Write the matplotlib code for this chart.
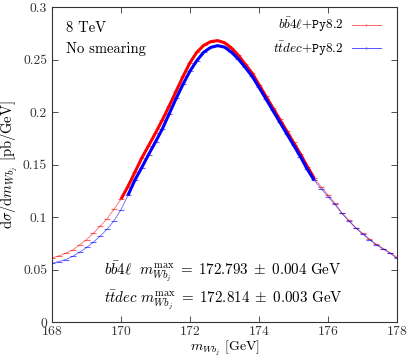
import numpy as np
import matplotlib
matplotlib.use('Agg')
import matplotlib.pyplot as plt
from matplotlib.lines import Line2D
from matplotlib.ticker import FuncFormatter

plt.rcParams['font.family'] = 'serif'
plt.rcParams['font.serif'] = ['cmr10']
plt.rcParams['mathtext.fontset'] = 'cm'
plt.rcParams['axes.formatter.use_mathtext'] = True

# bin centres of the m_Wbj histogram [GeV]
mass = np.round(np.arange(168.0, 178.01, 0.2), 1)

# bb4l + Py8.2 [pb/GeV]
bb4l = [0.0610, 0.0630, 0.0655, 0.0685, 0.0735, 0.0785, 0.0845, 0.0915, 0.0985, 0.1075,
        0.1170, 0.1290, 0.1425, 0.1560, 0.1680, 0.1800, 0.1925, 0.2060, 0.2200, 0.2340,
        0.2470, 0.2570, 0.2635, 0.2670, 0.2680, 0.2660, 0.2610, 0.2540, 0.2455, 0.2370,
        0.2260, 0.2150, 0.2040, 0.1930, 0.1820, 0.1710, 0.1600, 0.1480, 0.1370, 0.1290,
        0.1210, 0.1130, 0.1040, 0.0970, 0.0900, 0.0845, 0.0790, 0.0740, 0.0700, 0.0660,
        0.0616]

# ttdec + Py8.2 [pb/GeV]
ttdec = [0.0559, 0.0575, 0.0595, 0.0625, 0.0665, 0.0710, 0.0760, 0.0820, 0.0885, 0.0965,
         0.1070, 0.1205, 0.1350, 0.1470, 0.1595, 0.1715, 0.1840, 0.1985, 0.2130, 0.2265,
         0.2390, 0.2490, 0.2570, 0.2615, 0.2632, 0.2618, 0.2570, 0.2505, 0.2425, 0.2340,
         0.2235, 0.2125, 0.2015, 0.1905, 0.1795, 0.1685, 0.1575, 0.1455, 0.1350, 0.1270,
         0.1195, 0.1120, 0.1035, 0.0965, 0.0895, 0.0840, 0.0785, 0.0735, 0.0695, 0.0655,
         0.0605]

# fit windows
fit_red = (170.0, 175.6)
fit_blue = (170.2, 175.6)

bb4l = np.array(bb4l)
ttdec = np.array(ttdec)

fig = plt.figure(figsize=(4.07, 3.56), dpi=100)
ax = fig.add_axes([52/407, 34/356, 345/407, 315/356])

ax.plot(mass, bb4l, color='red', lw=0.6, alpha=0.6, marker='_', ms=5, mew=0.8)
ax.plot(mass, ttdec, color='blue', lw=0.6, alpha=0.6, marker='_', ms=5, mew=0.8)

m = (mass >= fit_red[0]) & (mass <= fit_red[1])
ax.plot(mass[m], bb4l[m], color='red', lw=2.2, solid_capstyle='butt', solid_joinstyle='round')
m = (mass >= fit_blue[0]) & (mass <= fit_blue[1])
ax.plot(mass[m], ttdec[m], color='blue', lw=2.2, solid_capstyle='butt', solid_joinstyle='round')

ax.set_xlim(168, 178)
ax.set_ylim(0, 0.3)
ax.set_xticks(range(168, 179, 2))
ax.set_yticks([0, 0.05, 0.1, 0.15, 0.2, 0.25, 0.3])
ax.yaxis.set_major_formatter(FuncFormatter(lambda v, p: '%g' % v))
ax.tick_params(direction='in', top=True, right=True, length=4, width=0.6,
               labelsize=9.8, colors='#333333')
ax.tick_params(axis='x', pad=2.5)
for s in ax.spines.values():
    s.set_linewidth(0.8)
    s.set_color('#333333')

ax.set_xlabel(r'$m_{Wb_j}$ [GeV]', fontsize=10)
ax.xaxis.set_label_coords(0.5, -0.052)
ax.set_ylabel(r'$\mathrm{d}\sigma/\mathrm{d}m_{Wb_j}$ [pb/GeV]', fontsize=10.5)
ax.yaxis.set_label_coords(-0.095, 0.5)

ax.text(0.041, 0.955, '8 TeV', transform=ax.transAxes, fontsize=10.5, va='top')
ax.text(0.041, 0.888, 'No smearing', transform=ax.transAxes, fontsize=10.5, va='top')

ax.text(0.152, 0.16,
        r'$b\bar{b}4\ell\ \ m_{Wb_j}^{\max}\;=\;172.793\;\pm\;0.004\ \mathrm{GeV}$',
        transform=ax.transAxes, fontsize=10.8, va='center')
ax.text(0.150, 0.072,
        r'$t\bar{t}dec\ m_{Wb_j}^{\max}\;=\;172.814\;\pm\;0.003\ \mathrm{GeV}$',
        transform=ax.transAxes, fontsize=10.8, va='center')

handles = [Line2D([], [], color='#ff6666', lw=0.7, marker='|', ms=2),
           Line2D([], [], color='#5555ff', lw=0.7, marker='|', ms=2)]
labels = [r'$b\bar{b}4\ell{+}\mathtt{Py8.2}$', r'$t\bar{t}dec{+}\mathtt{Py8.2}$']
ax.legend(handles, labels, loc='upper right', frameon=False, markerfirst=False,
          fontsize=9.5, handlelength=2.2, handletextpad=0.6, borderaxespad=0.3,
          labelspacing=0.4, bbox_to_anchor=(0.98, 1.0))

fig.savefig('out.png', dpi=100)
